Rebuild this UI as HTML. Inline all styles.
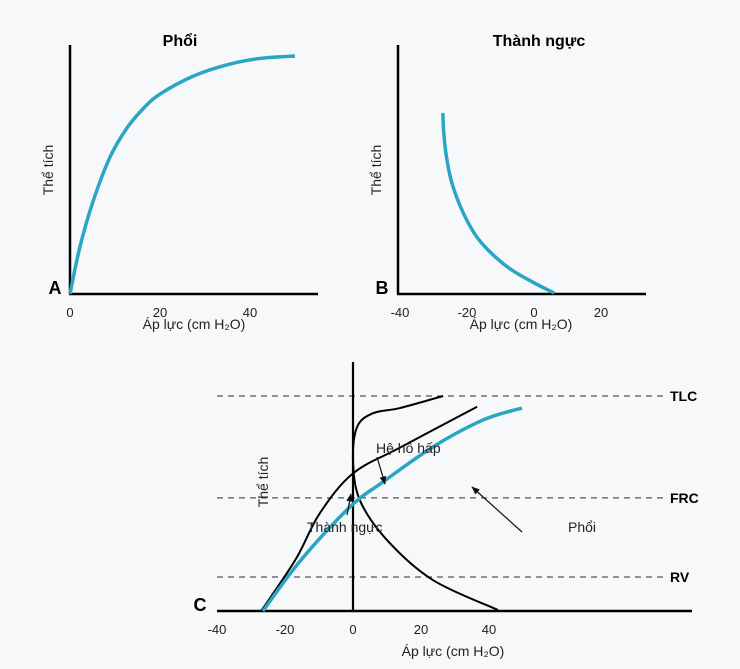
<!DOCTYPE html>
<html><head><meta charset="utf-8">
<style>
html,body{margin:0;padding:0;background:#f7f8fa;}
svg{display:block;font-family:"Liberation Sans","DejaVu Sans",sans-serif;}
</style></head>
<body>
<svg id="chart" width="740" height="669" viewBox="0 0 740 669">
<defs>
<marker id="ah" viewBox="0 0 10 10" refX="9" refY="5" markerWidth="7" markerHeight="7" orient="auto"><path d="M0,1 L10,5 L0,9 z" fill="#111"/></marker>
</defs>
<g id="gA"></g>
<g id="gB"></g>
<g id="gC"></g>
</svg>
<script>
// Panel A: lung (pressure, volume 0-100)
const lungAPressure = [0, 2.2, 5.2, 8.9, 12.6, 16.3, 20, 27.4, 34.8, 42.2, 50];
const lungAVolume   = [0, 18.9, 37.6, 55, 66.5, 74.5, 80.3, 87.5, 92, 94.6, 95.6];
const ticksA = [0, 20, 40];
// Panel B: chest wall
const chestBPressure = [-27.2, -27, -26.3, -24.8, -22.4, -19.6, -16.4, -11.8, -6.6, 0, 6];
const chestBVolume   = [72.7, 66, 56.6, 46, 36.5, 28.5, 21.7, 15.2, 9.6, 4.5, 0.4];
const ticksB = [-40, -20, 0, 20];
// Panel C
const lungCPressure = [-26.5, -15.3, -0.9, 8.8, 23.5, 38.2, 49.7];
const lungCVolume   = [0, 23.7, 48.4, 60, 76.3, 88.8, 94.4];
const rsCPressure = [-27, -23.8, -16.5, -9.7, 0, 13.8, 36.5];
const rsCVolume   = [0, 7.4, 25, 45.6, 64, 76, 95];
const cwCPressure = [42.6, 23.5, 10, 2, 0, 1.2, 5.9, 13.8, 26.5];
const cwCVolume   = [0.5, 14.4, 33, 51.6, 70, 85.6, 92, 94.4, 100];
const ticksC = [-40, -20, 0, 20, 40];
const levelNames = ["TLC", "FRC", "RV"];
const levelValues = [100, 52.6, 15.8];

const NS = "http://www.w3.org/2000/svg";
function mk(parent, tag, attrs, text){
  const e = document.createElementNS(NS, tag);
  for (const k in attrs) e.setAttribute(k, attrs[k]);
  if (text !== undefined) e.textContent = text;
  parent.appendChild(e); return e;
}
function smooth(pts){
  let d = "M" + pts[0][0] + "," + pts[0][1];
  for (let i = 0; i < pts.length - 1; i++){
    const p0 = pts[Math.max(i-1,0)], p1 = pts[i], p2 = pts[i+1], p3 = pts[Math.min(i+2,pts.length-1)];
    const c1x = p1[0] + (p2[0]-p0[0])/6, c1y = p1[1] + (p2[1]-p0[1])/6;
    const c2x = p2[0] - (p3[0]-p1[0])/6, c2y = p2[1] - (p3[1]-p1[1])/6;
    d += " C" + c1x + "," + c1y + " " + c2x + "," + c2y + " " + p2[0] + "," + p2[1];
  }
  return d;
}
function curve(g, xs, ys, fx, fy, color, w, name){
  const pts = xs.map((v,i)=>[fx(v), fy(ys[i])]);
  const p = mk(g, "path", {d: smooth(pts), fill:"none", stroke:color, "stroke-width":w, "stroke-linecap":"butt"});
  
  
}
const BLUE = "#2aa5c4";

// ---------- Panel A ----------
(function(){
  const g = document.getElementById("gA");
  const fx = v => 70 + v*4.5, fy = v => 294 - v*2.49;
  mk(g,"line",{x1:70,y1:45,x2:70,y2:294,stroke:"#000","stroke-width":2.5});
  mk(g,"line",{x1:69,y1:294,x2:318,y2:294,stroke:"#000","stroke-width":2.5});
  ticksA.forEach(t=>{
    const e = mk(g,"text",{x:fx(t),y:317,"font-size":13,"text-anchor":"middle",fill:"#222"},String(t));
    
    
  });
  curve(g, lungAPressure, lungAVolume, fx, fy, BLUE, 3.5, "lung-curve");
  mk(g,"text",{x:180,y:46,"font-size":16,"font-weight":"bold","text-anchor":"middle",},"Phổi");
  mk(g,"text",{x:55,y:294,"font-size":18,"font-weight":"bold","text-anchor":"middle",},"A");
  mk(g,"text",{x:53,y:170,"font-size":14,"text-anchor":"middle",fill:"#222",transform:"rotate(-90 53 170)",},"Thể tích");
  mk(g,"text",{x:194,y:329,"font-size":14,"text-anchor":"middle",fill:"#222",},"Áp lực (cm H₂O)");
})();

// ---------- Panel B ----------
(function(){
  const g = document.getElementById("gB");
  const fx = v => 534 + v*3.35, fy = v => 294 - v*2.49;
  mk(g,"line",{x1:398,y1:45,x2:398,y2:294,stroke:"#000","stroke-width":2.5});
  mk(g,"line",{x1:397,y1:294,x2:646,y2:294,stroke:"#000","stroke-width":2.5});
  ticksB.forEach(t=>{
    const e = mk(g,"text",{x:fx(t),y:317,"font-size":13,"text-anchor":"middle",fill:"#222"},String(t));
    
    
  });
  curve(g, chestBPressure, chestBVolume, fx, fy, BLUE, 3.5, "chest-wall-curve");
  mk(g,"text",{x:539,y:46,"font-size":16,"font-weight":"bold","text-anchor":"middle",},"Thành ngực");
  mk(g,"text",{x:382,y:294,"font-size":18,"font-weight":"bold","text-anchor":"middle",},"B");
  mk(g,"text",{x:381,y:170,"font-size":14,"text-anchor":"middle",fill:"#222",transform:"rotate(-90 381 170)",},"Thể tích");
  mk(g,"text",{x:521,y:329,"font-size":14,"text-anchor":"middle",fill:"#222",},"Áp lực (cm H₂O)");
})();

// ---------- Panel C ----------
(function(){
  const g = document.getElementById("gC");
  const fx = v => 353 + v*3.4, fy = v => 611 - v*2.15;
  levelNames.forEach((n,i)=>{
    const y = fy(levelValues[i]);
    const l = mk(g,"line",{x1:217,y1:y,x2:668,y2:y,stroke:"#555","stroke-width":1.3,"stroke-dasharray":"6,5"});
    
    
    const t = mk(g,"text",{x:670,y:y+5,"font-size":14,"font-weight":"bold"},n);
    
    
  });
  mk(g,"line",{x1:353,y1:362,x2:353,y2:611,stroke:"#000","stroke-width":2.2});
  mk(g,"line",{x1:217,y1:611,x2:692,y2:611,stroke:"#000","stroke-width":2.5});
  ticksC.forEach(t=>{
    const e = mk(g,"text",{x:fx(t),y:634,"font-size":13,"text-anchor":"middle",fill:"#222"},String(t));
    
    
  });
  curve(g, cwCPressure, cwCVolume, fx, fy, "#000", 2, "chest-wall-curve");
  curve(g, rsCPressure, rsCVolume, fx, fy, "#000", 2, "respiratory-system-curve");
  curve(g, lungCPressure, lungCVolume, fx, fy, BLUE, 3.5, "lung-curve");
  mk(g,"line",{x1:377,y1:457,x2:385,y2:484,stroke:"#111","stroke-width":1.2,"marker-end":"url(#ah)",});
  mk(g,"line",{x1:347,y1:515,x2:351,y2:494,stroke:"#111","stroke-width":1.2,"marker-end":"url(#ah)",});
  mk(g,"line",{x1:522,y1:532,x2:472,y2:487,stroke:"#111","stroke-width":1.2,"marker-end":"url(#ah)",});
  mk(g,"text",{x:376,y:453,"font-size":14,fill:"#222",},"Hệ hô hấp");
  mk(g,"text",{x:307,y:532,"font-size":14,fill:"#222",},"Thành ngực");
  mk(g,"text",{x:568,y:532,"font-size":14,fill:"#222",},"Phổi");
  mk(g,"text",{x:268,y:482,"font-size":14,"text-anchor":"middle",fill:"#222",transform:"rotate(-90 268 482)",},"Thể tích");
  mk(g,"text",{x:453,y:656,"font-size":14,"text-anchor":"middle",fill:"#222",},"Áp lực (cm H₂O)");
  mk(g,"text",{x:200,y:611,"font-size":18,"font-weight":"bold","text-anchor":"middle",},"C");
})();
</script>
</body></html>
